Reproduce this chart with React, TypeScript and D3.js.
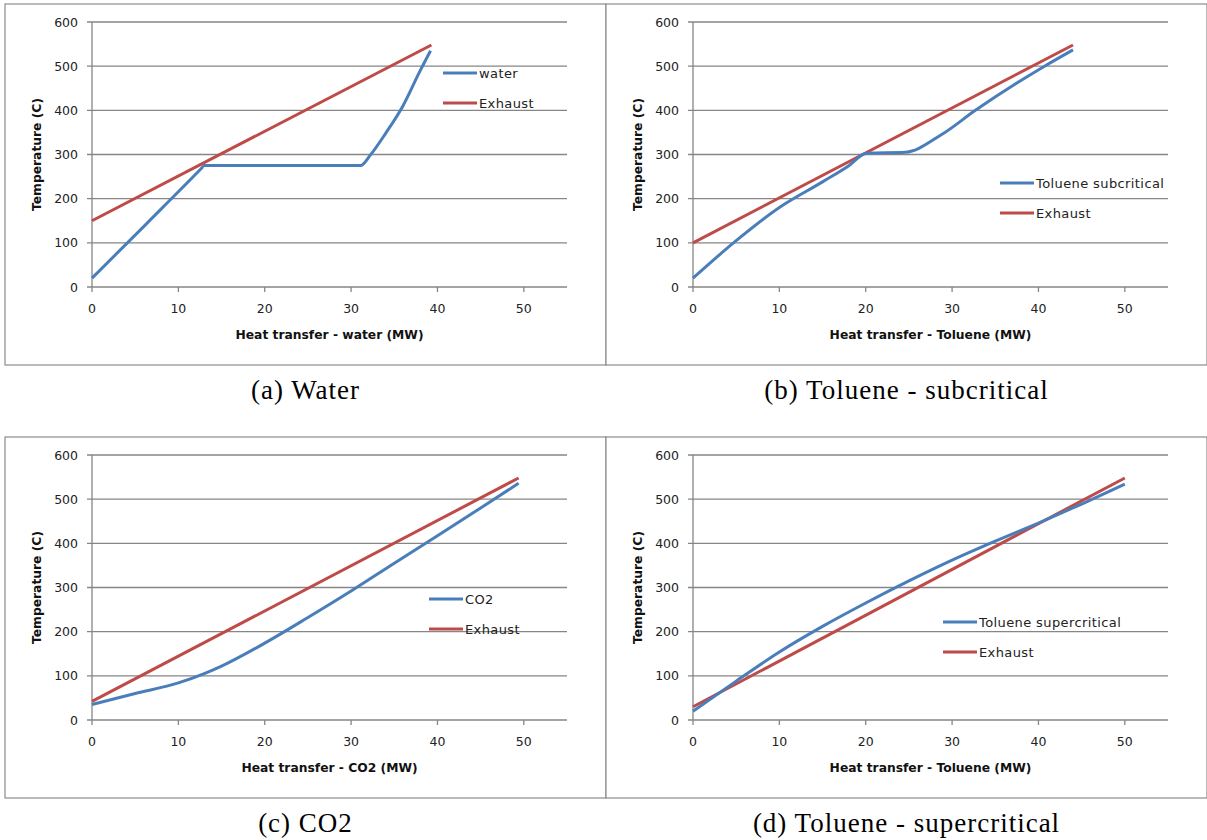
import React, { useEffect, useRef } from 'react'
import * as d3 from 'd3'

// panel (a) water
const waterQ = [0, 6.5, 12.6, 13, 22, 31.1, 32.2, 34, 36, 38, 39.2]
const waterT = [20, 147, 267, 275, 275, 275, 298, 348, 410, 490, 535]
const waterExhQ = [0, 39.3]
const waterExhT = [150, 548]

// panel (b) toluene subcritical
const tolSubQ = [0, 5, 10, 15, 18, 20.1, 24.6, 28.7, 32.7, 40.7, 44]
const tolSubT = [20, 105, 180, 238, 274, 303, 305, 344, 400, 500, 537]
const tolSubExhQ = [0, 44]
const tolSubExhT = [100, 548]

// panel (c) CO2
const co2Q = [0, 5, 10, 13, 15, 20, 25, 30, 35, 40, 45, 49.4]
const co2T = [35, 60, 84, 105, 122, 174, 232, 292, 355, 417, 480, 536]
const co2ExhQ = [0, 49.4]
const co2ExhT = [42, 548]

// panel (d) toluene supercritical
const tolSupQ = [0, 5, 10, 15, 20, 25, 30, 35, 40, 45, 50]
const tolSupT = [20, 88, 154, 212, 265, 315, 362, 405, 446, 489, 534]
const tolSupExhQ = [0, 50]
const tolSupExhT = [30, 548]

const xTicks = [0, 10, 20, 30, 40, 50]
const yTicks = [0, 100, 200, 300, 400, 500, 600]

const panels = [
  { caption: '(a) Water', xTitle: 'Heat transfer - water (MW)', name: 'water',
    q: waterQ, t: waterT, eq: waterExhQ, et: waterExhT },
  { caption: '(b) Toluene - subcritical', xTitle: 'Heat transfer - Toluene (MW)', name: 'Toluene subcritical',
    q: tolSubQ, t: tolSubT, eq: tolSubExhQ, et: tolSubExhT },
  { caption: '(c) CO2', xTitle: 'Heat transfer - CO2 (MW)', name: 'CO2',
    q: co2Q, t: co2T, eq: co2ExhQ, et: co2ExhT },
  { caption: '(d) Toluene - supercritical', xTitle: 'Heat transfer - Toluene (MW)', name: 'Toluene supercritical',
    q: tolSupQ, t: tolSupT, eq: tolSupExhQ, et: tolSupExhT },
]

// layout: panel origin and legend position (relative to panel)
const layout = [
  { x: 5, y: 4, lx: 438, ly: 69 },
  { x: 606, y: 4, lx: 394, ly: 179 },
  { x: 5, y: 437, lx: 424, ly: 162 },
  { x: 606, y: 437, lx: 337, ly: 185 },
]

const BLUE = '#4a7ebb'
const RED = '#be4b48'
const GRID = '#868686'
const FONT = '"DejaVu Sans", sans-serif'

function drawPanel(svg, p, l) {
  const w = 601, h = 361
  const g = svg.append('g').attr('transform', `translate(${l.x},${l.y})`)
  g.append('rect').attr('x', 0).attr('y', 0).attr('width', w).attr('height', h)
    .attr('fill', 'white').attr('stroke', '#8c8c8c').attr('stroke-width', 1.2)

  const x = d3.scaleLinear().domain([0, 55]).range([87, 562])
  const y = d3.scaleLinear().domain([0, 600]).range([283, 18])

  // grid
  g.selectAll('.grid').data(yTicks).enter().append('line')
    .attr('x1', 82).attr('x2', x(55))
    .attr('y1', d => y(d)).attr('y2', d => y(d))
    .attr('stroke', GRID).attr('stroke-width', 1.3)
  g.append('line').attr('x1', x(0)).attr('x2', x(0)).attr('y1', y(600)).attr('y2', y(0))
    .attr('stroke', GRID).attr('stroke-width', 1.3)
  g.selectAll('.xt').data(xTicks).enter().append('line')
    .attr('x1', d => x(d)).attr('x2', d => x(d)).attr('y1', y(0)).attr('y2', y(0) + 5)
    .attr('stroke', GRID).attr('stroke-width', 1.3)

  // tick labels
  g.selectAll('.yl').data(yTicks).enter().append('text')
    .attr('x', 73).attr('y', d => y(d) + 4.5).attr('text-anchor', 'end')
    .attr('font-family', FONT).attr('font-size', 12.5).attr('fill', '#222')
    .text(d => d)
  g.selectAll('.xl').data(xTicks).enter().append('text')
    .attr('x', d => x(d)).attr('y', y(0) + 25.5).attr('text-anchor', 'middle')
    .attr('font-family', FONT).attr('font-size', 12.5).attr('fill', '#222')
    .text(d => d)

  // axis titles
  g.append('text').attr('x', (x(0) + x(55)) / 2).attr('y', 335)
    .attr('text-anchor', 'middle').attr('font-family', FONT).attr('font-size', 12.3)
    .attr('font-weight', 'bold').attr('fill', '#111').text(p.xTitle)
  g.append('text').attr('transform', `translate(36,${y(300)}) rotate(-90)`)
    .attr('text-anchor', 'middle').attr('font-family', FONT).attr('font-size', 12.3)
    .attr('font-weight', 'bold').attr('fill', '#111').text('Temperature (C)')

  const line = d3.line().x(d => x(d[0])).y(d => y(d[1])).curve(d3.curveMonotoneX)
  g.append('path').attr('d', line(p.eq.map((q, i) => [q, p.et[i]])))
    .attr('fill', 'none').attr('stroke', RED).attr('stroke-width', 3)
  g.append('path').attr('d', line(p.q.map((q, i) => [q, p.t[i]])))
    .attr('fill', 'none').attr('stroke', BLUE).attr('stroke-width', 3)

  // legend
  const items = [[p.name, BLUE], ['Exhaust', RED]]
  items.forEach(([name, c], i) => {
    const ly = l.ly + i * 30
    g.append('line').attr('x1', l.lx).attr('x2', l.lx + 34).attr('y1', ly).attr('y2', ly)
      .attr('stroke', c).attr('stroke-width', 3)
    g.append('text').attr('x', l.lx + 36).attr('y', ly + 4.8)
      .attr('font-family', FONT).attr('font-size', 13).attr('letter-spacing', 0.4)
      .attr('fill', '#222').text(name)
  })

  // caption
  g.append('text').attr('x', w / 2).attr('y', h + 34).attr('text-anchor', 'middle')
    .attr('font-family', '"Liberation Serif", serif').attr('font-size', 27)
    .attr('letter-spacing', 1).attr('fill', '#000').text(p.caption)
}

export default function App() {
  const ref = useRef(null)
  useEffect(() => {
    const svg = d3.select(ref.current)
    svg.selectAll('*').remove()
    panels.forEach((p, i) => drawPanel(svg, p, layout[i]))
  }, [])
  return (
    <svg ref={ref} width={1207} height={840}
      style={{ position: 'absolute', left: 0, top: 0, background: 'white' }} />
  )
}
